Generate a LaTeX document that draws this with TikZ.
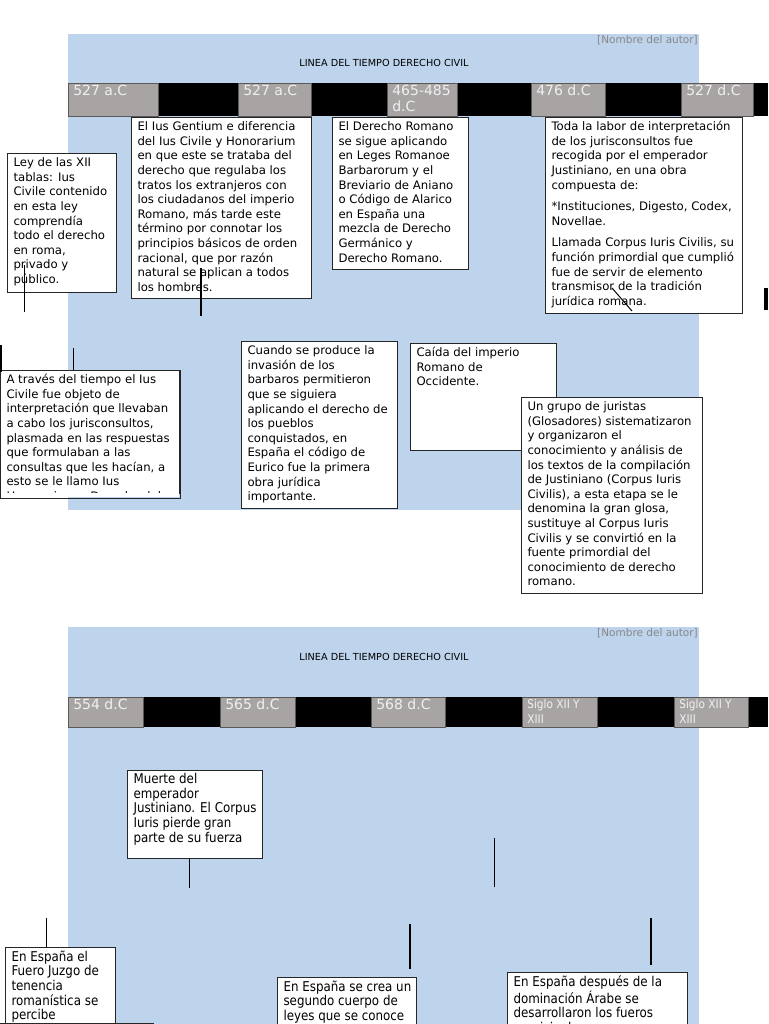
\documentclass[tikz,border=0pt]{standalone}
\usepackage{fontspec}
\setmainfont{DejaVu Sans}
\newfontfamily\narrowfont{DejaVu Sans}[FakeStretch=0.88]
\definecolor{sheetblue}{RGB}{190,212,236}
\definecolor{cellgray}{RGB}{168,164,164}
\definecolor{celltext}{RGB}{240,240,240}
\definecolor{authorgray}{RGB}{135,135,135}
% lines of a box, top aligned, no automatic breaks
\newcommand{\boxlines}[3]{\parbox[t][#2pt][t]{#1pt}{\begin{tabular}[t]{@{}l@{}}#3\end{tabular}}}
\begin{document}
\begin{tikzpicture}[x=1pt, y=-1pt,
  sheet/.style={fill=sheetblue, anchor=north west, inner sep=0pt},
  band/.style={fill=black, anchor=north west, inner sep=0pt},
  yearcell/.style={fill=cellgray, draw=gray!70!black, line width=0.6pt, anchor=north west, inner xsep=5pt, inner ysep=1pt, text=celltext, font=\fontsize{14}{16}\selectfont},
  smallcell/.style={yearcell, font=\narrowfont\fontsize{12}{15}\selectfont},
  evbox/.style={draw=black!85, line width=1pt, fill=white, anchor=north west, inner xsep=6pt, inner ysep=3pt, font=\fontsize{11.7}{14.6}\selectfont},
  lowbox/.style={evbox, font=\narrowfont\fontsize{13.5}{14.5}\selectfont},
  evframe/.style={draw=black!85, line width=1pt},
  headline/.style={font=\fontsize{9.7}{11}\selectfont, inner sep=0pt},
  authortag/.style={font=\fontsize{10.5}{12}\selectfont, text=authorgray, anchor=east, inner sep=0pt},
  stem/.style={draw=black, line width=1pt},
  boldstem/.style={draw=black, line width=2pt}
]
\useasboundingbox (0,0) rectangle (768,1024);

% ---- first sheet
\node[sheet, minimum width=631pt, minimum height=476pt] (sheet1) at (68,34) {};
\node[authortag] (auth1) at (698,40) {[Nombre del autor]};
\node[headline] (head1) at (384,63) {LINEA DEL TIEMPO DERECHO CIVIL};
\node[band, minimum width=700pt, minimum height=33pt] (bar1) at (68,83) {};
\node[yearcell] (y1) at (68,83) {\boxlines{80}{31}{527 a.C}};
\node[yearcell] (y2) at (238,83) {\boxlines{63}{31}{527 a.C}};
\node[yearcell] (y3) at (387,83) {\boxlines{60}{31}{465-485\\d.C}};
\node[yearcell] (y4) at (531,83) {\boxlines{64}{31}{476 d.C}};
\node[yearcell] (y5) at (681,83) {\boxlines{62}{31}{527 d.C}};

\node[evbox] (tablas) at (7,153) {\boxlines{97}{133}{Ley de las XII\\tablas: Ius\\Civile contenido\\en esta ley\\comprendía\\todo el derecho\\en roma,\\privado y\\público.}};
\node[evbox] (gentium) at (131,117) {\boxlines{168}{175}{El Ius Gentium e diferencia\\del Ius Civile y Honorarium\\en que este se trataba del\\derecho que regulaba los\\tratos los extranjeros con\\los ciudadanos del imperio\\Romano, más tarde este\\término por connotar los\\principios básicos de orden\\racional, que por razón\\natural se aplican a todos\\los hombres.}};
\node[evbox] (alarico) at (332,117) {\boxlines{124}{146}{El Derecho Romano\\se sigue aplicando\\en Leges Romanoe\\Barbarorum y el\\Breviario de Aniano\\o Código de Alarico\\en España una\\mezcla de Derecho\\Germánico y\\Derecho Romano.}};
\node[evbox] (corpus) at (545,117) {\boxlines{185}{190}{Toda la labor de interpretación\\de los jurisconsultos fue\\recogida por el emperador\\Justiniano, en una obra\\compuesta de:\\[7pt]*Instituciones, Digesto, Codex,\\Novellae.\\[7pt]Llamada Corpus Iuris Civilis, su\\función primordial que cumplió\\fue de servir de elemento\\transmisor de la tradición\\jurídica romana.}};
\begin{scope}
  \clip (-1,369) rectangle (180,493);
  \node[evbox] (honorario) at (0,370) {\boxlines{167}{121}{A través del tiempo el Ius\\Civile fue objeto de\\interpretación que llevaban\\a cabo los jurisconsultos,\\plasmada en las respuestas\\que formulaban a las\\consultas que les hacían, a\\esto se le llamo Ius\\Honorarium o Derecho del}};
\end{scope}
\fill[white] (0,493) rectangle (179,497);
\draw[evframe] (honorario.north west) rectangle (honorario.south east);
\node[evbox] (eurico) at (241,341) {\boxlines{144}{161}{Cuando se produce la\\invasión de los\\barbaros permitieron\\que se siguiera\\aplicando el derecho de\\los pueblos\\conquistados, en\\España el código de\\Eurico fue la primera\\obra jurídica\\importante.}};
\node[evbox] (caida) at (410,343) {\boxlines{134}{101}{Caída del imperio\\Romano de\\Occidente.}};
\node[evbox] (glosa) at (521,397) {\boxlines{169}{190}{Un grupo de juristas\\(Glosadores) sistematizaron\\y organizaron el\\conocimiento y análisis de\\los textos de la compilación\\de Justiniano (Corpus Iuris\\Civilis), a esta etapa se le\\denomina la gran glosa,\\sustituye al Corpus Iuris\\Civilis y se convirtió en la\\fuente primordial del\\conocimiento de derecho\\romano.}};

\coordinate (s1a) at (24,265);  \coordinate (s1b) at (24,312);
\coordinate (s2a) at (201,268); \coordinate (s2b) at (201,316);
\coordinate (s3a) at (612,288); \coordinate (s3b) at (632,311);
\coordinate (s4a) at (766,288); \coordinate (s4b) at (766,310);
\coordinate (s5a) at (1,345);   \coordinate (s5b) at (1,372);
\coordinate (s6a) at (73,348);
\draw[stem] (s1a) -- (s1b);
\draw[boldstem] (s2a) -- (s2b);
\draw[stem] (s3a) -- (s3b);
\draw[black, line width=4pt] (s4a) -- (s4b);
\draw[stem, line width=1.5pt] (s5a) -- (s5b);
\draw[stem] (s6a) -- (s6a |- honorario.north);

% ---- second sheet
\node[sheet, minimum width=631pt, minimum height=420pt] (sheet2) at (68,627) {};
\node[authortag] (auth2) at (698,633) {[Nombre del autor]};
\node[headline] (head2) at (384,657) {LINEA DEL TIEMPO DERECHO CIVIL};
\node[band, minimum width=700pt, minimum height=30pt] (bar2) at (68,697) {};
\node[yearcell] (z1) at (68,697) {\boxlines{65}{28}{554 d.C}};
\node[yearcell] (z2) at (220,697) {\boxlines{65}{28}{565 d.C}};
\node[yearcell] (z3) at (371,697) {\boxlines{64}{28}{568 d.C}};
\node[smallcell] (z4) at (522,697) {\boxlines{65}{28}{Siglo XII Y\\XIII}};
\node[smallcell] (z5) at (674,697) {\boxlines{64}{28}{Siglo XII Y\\XIII}};

\node[lowbox] (muerte) at (127,770) {\boxlines{123}{82}{Muerte del\\emperador\\Justiniano. El Corpus\\Iuris pierde gran\\parte de su fuerza}};
\node[lowbox] (juzgo) at (5,947) {\boxlines{98}{94}{En España el\\Fuero Juzgo de\\tenencia\\romanística se\\percibe}};
\node[lowbox] (segundo) at (277,977) {\boxlines{127}{54}{En España se crea un\\segundo cuerpo de\\leyes que se conoce}};
\node[lowbox] (fueros) at (507,972) {\boxlines{168}{54}{En España después de la\\dominación Árabe se\\desarrollaron los fueros\\municipales}};
\node[evbox, minimum width=153pt, minimum height=30pt] (siguiente) at (0,1023) {};

\coordinate (t1a) at (189,888);
\coordinate (t2a) at (494,838); \coordinate (t2b) at (494,887);
\coordinate (t3a) at (46,918);
\coordinate (t4a) at (410,924); \coordinate (t4b) at (410,969);
\coordinate (t5a) at (651,918); \coordinate (t5b) at (651,965);
\draw[stem] (t1a |- muerte.south) -- (t1a);
\draw[stem] (t2a) -- (t2b);
\draw[stem] (t3a) -- (t3a |- juzgo.north);
\draw[boldstem] (t4a) -- (t4b);
\draw[stem, line width=1.5pt] (t5a) -- (t5b);
\end{tikzpicture}
\end{document}
